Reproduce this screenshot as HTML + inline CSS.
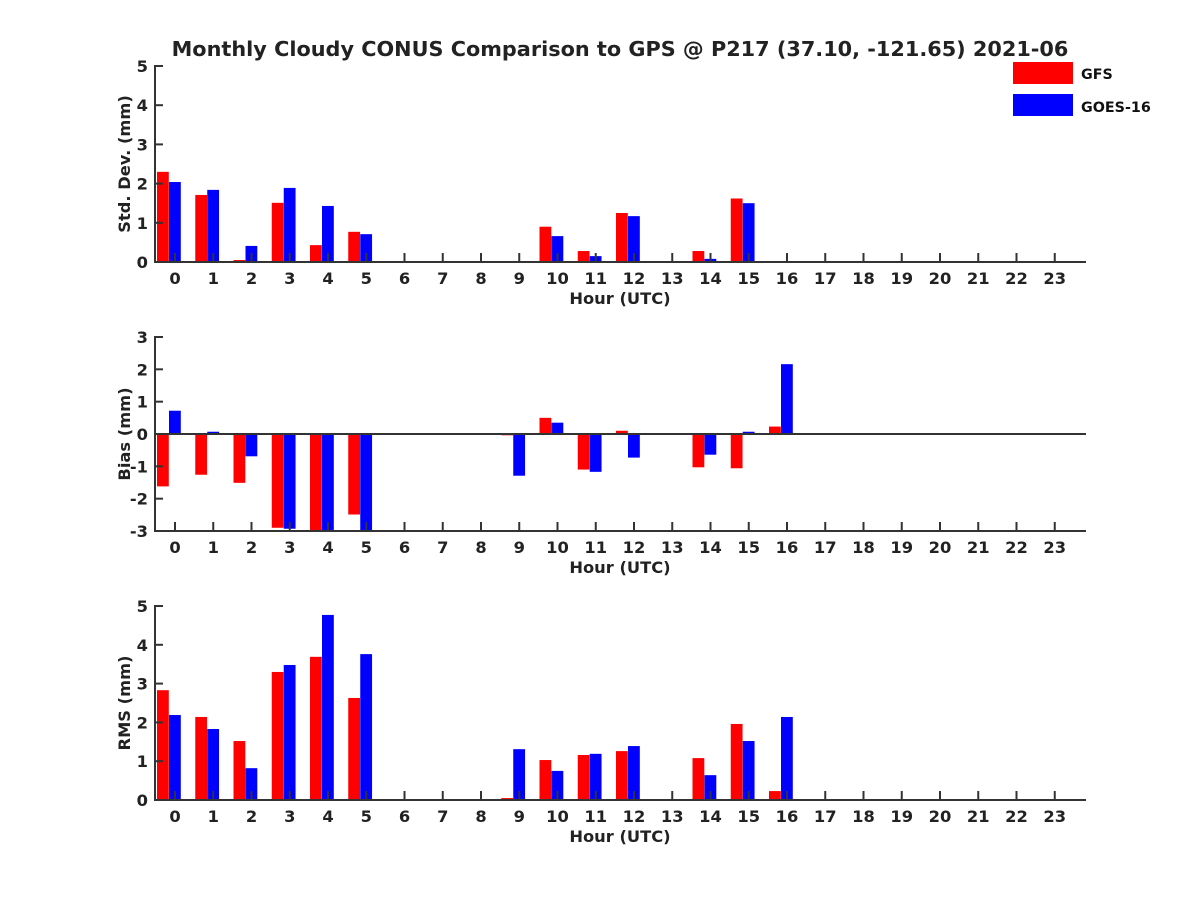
<!DOCTYPE html>
<html><head><meta charset="utf-8"><style>
body{margin:0;background:#fff}
svg{display:block;font-family:"DejaVu Sans","Liberation Sans",sans-serif;font-weight:bold}
</style></head><body>
<svg id="c" width="1200" height="900" xmlns="http://www.w3.org/2000/svg">
<text x="620" y="56" text-anchor="middle" font-size="20.8" fill="#222">Monthly Cloudy CONUS Comparison to GPS @ P217 (37.10, -121.65) 2021-06</text>
<g>
<rect x="1013" y="62" width="60" height="22" fill="#ff0000"/>
<text x="1081" y="79" font-size="14.3" fill="#111">GFS</text>
<rect x="1013" y="94" width="60" height="22" fill="#0000ff"/>
<text x="1081" y="112" font-size="14.3" fill="#111">GOES-16</text>
</g>
</svg>
<script>
const hours = [...Array(24).keys()];
const stdGFS  = [2.30,1.71,0.05,1.51,0.43,0.77,0,0,0,0,0.90,0.28,1.25,0,0.28,1.62,0,0,0,0,0,0,0,0];
const stdGOES = [2.04,1.84,0.41,1.89,1.43,0.71,0,0,0,0,0.66,0.15,1.17,0,0.08,1.50,0,0,0,0,0,0,0,0];
const biasGFS  = [-1.62,-1.26,-1.51,-2.90,-3,-2.49,0,0,0,-0.04,0.50,-1.10,0.10,0,-1.03,-1.06,0.23,0,0,0,0,0,0,0];
const biasGOES = [0.72,0.07,-0.69,-2.93,-3,-3,0,0,0,-1.29,0.35,-1.17,-0.73,0,-0.64,0.07,2.16,0,0,0,0,0,0,0];
const rmsGFS  = [2.83,2.14,1.52,3.30,3.69,2.63,0,0,0,0.05,1.03,1.16,1.26,0,1.08,1.96,0.23,0,0,0,0,0,0,0];
const rmsGOES = [2.19,1.83,0.82,3.48,4.77,3.76,0,0,0,1.31,0.75,1.19,1.39,0,0.64,1.52,2.14,0,0,0,0,0,0,0];
const stdTicks=[0,1,2,3,4,5], biasTicks=[-3,-2,-1,0,1,2,3], rmsTicks=[0,1,2,3,4,5];

const svg=document.getElementById('c');
const NS='http://www.w3.org/2000/svg';
function mk(tag,attrs,parent){const e=document.createElementNS(NS,tag);for(const k in attrs)e.setAttribute(k,attrs[k]);(parent||svg).appendChild(e);return e;}
const X0=155,X1=1086;
const xs=h=>175+h*38.25;

function panel(name,top,bot,ymin,ymax,ticks,ylabel,g1,g2){
  const g=mk('g',{});
  
  
  const ys=v=>bot-(v-ymin)/(ymax-ymin)*(bot-top);
  const y0=ys(Math.max(ymin,0));
  hours.forEach(h=>{
    const c=xs(h);
    [[g1[h],c-18,'#ff0000','gfs'],[g2[h],c-6,'#0000ff','goes']].forEach(([v,x,col,s])=>{
      if(v===0)return;
      const yv=ys(Math.max(ymin,Math.min(ymax,v)));
      const r=mk('rect',{x:x,y:Math.min(yv,y0),width:11.8,height:Math.abs(yv-y0),fill:col},g);
      
      
    });
  });
  const st={stroke:'#333','stroke-width':2};
  const ax=mk('line',Object.assign({x1:X0,y1:top-1,x2:X0,y2:bot+1},st),g);
  
  
  const bx=mk('line',Object.assign({x1:X0-1,y1:bot,x2:X1,y2:bot},st),g);
  
  
  if(ymin<0){const z=mk('line',{x1:X0,y1:ys(0),x2:X1,y2:ys(0),stroke:'#333','stroke-width':2},g);
    
    }
  ticks.forEach(t=>{
    const y=ys(t);
    mk('line',{x1:X0,y1:y,x2:X0+8,y2:y,stroke:'#333','stroke-width':2},g);
    const tx=mk('text',{x:X0-7,y:y+6,'text-anchor':'end','font-size':16.3,fill:'#222'},g);
    tx.textContent=t;
    
    
  });
  hours.forEach(h=>{
    mk('line',{x1:xs(h),y1:bot,x2:xs(h),y2:bot-9,stroke:'#333','stroke-width':2},g);
    const tx=mk('text',{x:xs(h),y:bot+22,'text-anchor':'middle','font-size':16.3,fill:'#222'},g);
    tx.textContent=h;
    
    
  });
  const xl=mk('text',{x:620,y:bot+42,'text-anchor':'middle','font-size':16.3,fill:'#222'},g);
  xl.textContent='Hour (UTC)';
  
  
  const cy=(top+bot)/2;
  const yl=mk('text',{x:0,y:0,transform:`translate(130,${cy}) rotate(-90)`,'text-anchor':'middle','font-size':16.3,fill:'#222'},g);
  yl.textContent=ylabel;
  
  
}
panel('std',66,262,0,5,stdTicks,'Std. Dev. (mm)',stdGFS,stdGOES);
panel('bias',337,531,-3,3,biasTicks,'Bias (mm)',biasGFS,biasGOES);
panel('rms',606,800,0,5,rmsTicks,'RMS (mm)',rmsGFS,rmsGOES);
</script>
</body></html>
